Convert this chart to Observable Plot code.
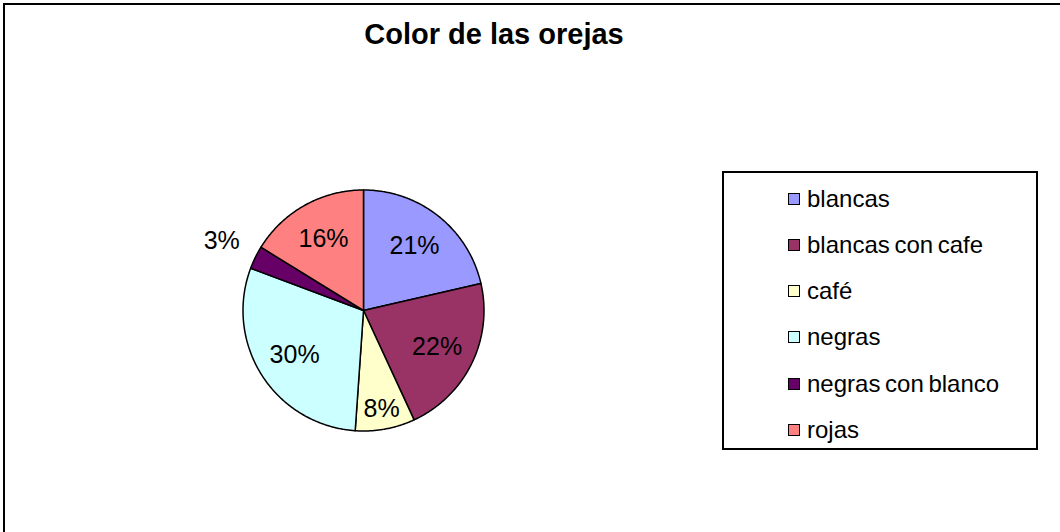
<!DOCTYPE html>
<html>
<head>
<meta charset="utf-8">
<script src="https://cdn.jsdelivr.net/npm/d3@7"></script>
<script src="https://cdn.jsdelivr.net/npm/@observablehq/plot@0.6"></script>
<style>
  html, body { margin: 0; padding: 0; background: #fff; }
  #wrap { position: relative; width: 1060px; height: 532px; overflow: hidden; font-family: "Liberation Sans", Arial, sans-serif; }
  #frame { position: absolute; left: 3px; top: 3px; width: 1100px; height: 600px; border-left: 2px solid #000; border-top: 2px solid #000; }
  #title { position: absolute; left: 0; width: 988px; top: 18px; text-align: center; font-weight: bold; font-size: 29px; color: #000; }
  #chart { position: absolute; left: 0; top: 0; }
  #legend { position: absolute; left: 722px; top: 171px; width: 312px; height: 275px; border: 2px solid #000; background: #fff; }
  .item { position: absolute; left: 64px; height: 28px; display: flex; align-items: center; font-size: 24px; color: #000; white-space: nowrap; word-spacing: -2px; }
  .sw { width: 10px; height: 10px; border: 1.5px solid #000; margin-right: 7px; }
</style>
</head>
<body>
<div id="wrap">
  <div id="frame"></div>
  <div id="chart"></div>
  <div id="title">Color de las orejas</div>
  <div id="legend"></div>
</div>
<script>
// Data
const names = ["blancas", "blancas con cafe", "café", "negras", "negras con blanco", "rojas"];
const values = [21.4, 21.7, 8.0, 29.6, 3.1, 16.2];
const colors = ["#9999FF", "#993366", "#FFFFCC", "#CCFFFF", "#660066", "#FF8080"];

const rows = names.map((name, i) => ({name, value: values[i]}));
const total = d3.sum(values);
const arcs = d3.pie().sort(null).value(d => d.value)(rows);

// Slice outlines in unit-radius coordinates
const slicePts = [];
for (const a of arcs) {
  const n = Math.max(2, Math.ceil((a.endAngle - a.startAngle) / (Math.PI / 360)));
  slicePts.push({name: a.data.name, x: 0, y: 0});
  for (let k = 0; k <= n; k++) {
    const t = a.startAngle + (a.endAngle - a.startAngle) * k / n;
    slicePts.push({name: a.data.name, x: Math.sin(t), y: Math.cos(t)});
  }
  slicePts.push({name: a.data.name, x: 0, y: 0});
}

// Labels
const labels = arcs.map(a => {
  const pct = a.data.value / total * 100;
  const mid = (a.startAngle + a.endAngle) / 2;
  const rr = pct < 5 ? 1.31 : pct < 10 ? 0.83 : 0.68;
  return {text: Math.round(pct) + "%", x: rr * Math.sin(mid), y: rr * Math.cos(mid)};
});

const cx = 363, cy = 310, r = 120.5;
const chart = Plot.plot({
  width: 1060,
  height: 532,
  margin: 0,
  style: {background: "transparent", fontFamily: "'Liberation Sans', Arial, sans-serif", overflow: "visible"},
  x: {domain: [-1, 1], range: [cx - r, cx + r], axis: null},
  y: {domain: [-1, 1], range: [cy + r, cy - r], axis: null},
  color: {type: "ordinal", domain: names, range: colors},
  marks: [
    Plot.line(slicePts, {x: "x", y: "y", z: "name", fill: "name", stroke: "#000", strokeWidth: 1.5, strokeLinejoin: "round"}),
    Plot.text(labels, {x: "x", y: "y", text: "text", fontSize: 25, fill: "#000"})
  ]
});
document.getElementById("chart").appendChild(chart);

// Legend
const leg = document.getElementById("legend");
names.forEach((name, i) => {
  const it = document.createElement("div");
  it.className = "item";
  it.style.top = (11.5 + i * 46.3) + "px";
  const sw = document.createElement("span");
  sw.className = "sw";
  sw.style.background = colors[i];
  const tx = document.createElement("span");
  tx.textContent = name;
  it.appendChild(sw);
  it.appendChild(tx);
  leg.appendChild(it);
});
</script>
</body>
</html>
